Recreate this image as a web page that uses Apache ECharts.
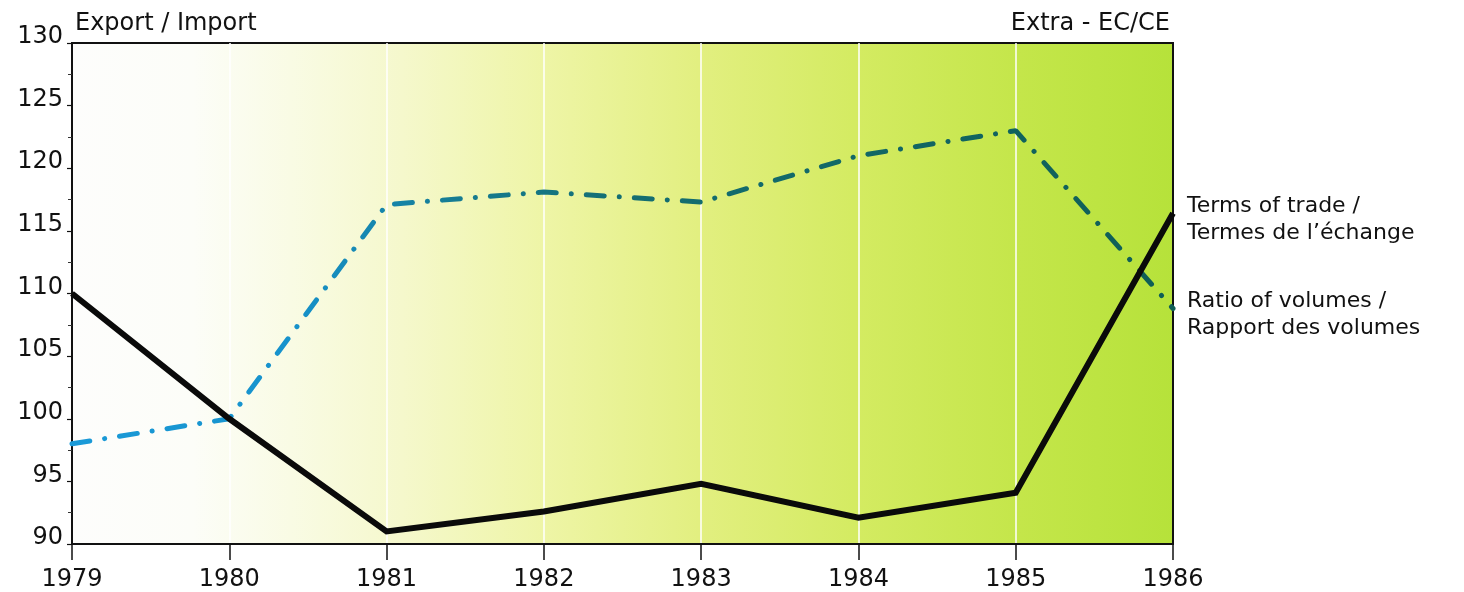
<!DOCTYPE html>
<html>
<head>
<meta charset="utf-8">
<script src="https://cdn.jsdelivr.net/npm/echarts@6/dist/echarts.min.js"></script>
<style>html,body{margin:0;padding:0;background:#fff;}#c{width:1464px;height:592px;}</style>
</head>
<body>
<div id="c"></div>
<script>
const years = ['1979','1980','1981','1982','1983','1984','1985','1986'];
const termsOfTrade = [110, 100, 91.0, 92.6, 94.8, 92.1, 94.1, 116.4];
const ratioOfVolumes = [98, 100, 117.1, 118.1, 117.3, 121.0, 123.0, 108.8];
const yMin = 90, yMax = 130, yStep = 5;
const titleLeft = 'Export / Import';
const titleRight = 'Extra - EC/CE';
const labelTerms = 'Terms of trade /\nTermes de l\u2019\u00e9change';
const labelRatio = 'Ratio of volumes /\nRapport des volumes';

const FONT = 'DejaVu Sans';
const chart = echarts.init(document.getElementById('c'), null, {renderer: 'canvas'});
const bg = new echarts.graphic.LinearGradient(0, 0, 1, 0, [
  {offset: 0, color: '#fdfdfc'},
  {offset: 0.11, color: '#fcfdf8'},
  {offset: 0.2, color: '#f9fbe4'},
  {offset: 0.3, color: '#f5f8cc'},
  {offset: 0.43, color: '#eef5a6'},
  {offset: 0.57, color: '#e2ef80'},
  {offset: 0.71, color: '#d4eb62'},
  {offset: 0.86, color: '#c4e64a'},
  {offset: 1, color: '#b6e23a'}
]);
const dashColor = new echarts.graphic.LinearGradient(0, 0, 1, 0, [
  {offset: 0, color: '#1a9ad8'},
  {offset: 0.2, color: '#1692cc'},
  {offset: 0.35, color: '#167c92'},
  {offset: 0.5, color: '#146e72'},
  {offset: 1, color: '#0f5e55'}
]);
chart.setOption({
  animation: false,
  backgroundColor: '#ffffff',
  textStyle: {fontFamily: FONT},
  title: [
    {text: titleLeft, left: 70, top: 7, textStyle: {fontFamily: FONT, fontSize: 24, fontWeight: 'normal', color: '#111'}},
    {text: titleRight, right: 289, top: 7, textStyle: {fontFamily: FONT, fontSize: 24, fontWeight: 'normal', color: '#111'}}
  ],
  grid: {left: 72, right: 291, top: 43, bottom: 48, show: true, backgroundColor: bg, borderColor: '#111', borderWidth: 2},
  xAxis: {
    type: 'category', data: years, boundaryGap: false,
    axisLine: {lineStyle: {color: '#111', width: 2}},
    axisTick: {length: 16, lineStyle: {color: '#111', width: 1.5}},
    axisLabel: {margin: 24, fontFamily: FONT, fontSize: 24, color: '#111'},
    splitLine: {show: true, interval: function (i) { return i > 0 && i < years.length - 1; }, lineStyle: {color: '#ffffff', width: 1.5}}
  },
  yAxis: {
    type: 'value', min: yMin, max: yMax, interval: yStep,
    axisLine: {show: true, lineStyle: {color: '#111', width: 2}},
    axisTick: {show: true, length: 5, lineStyle: {color: '#111', width: 1.2}},
    minorTick: {show: true, splitNumber: 2, length: 4, lineStyle: {color: '#333', width: 1}},
    axisLabel: {margin: 9, fontFamily: FONT, fontSize: 24, color: '#111', verticalAlign: 'bottom', lineHeight: 12},
    splitLine: {show: false}
  },
  series: [
    {
      name: 'Ratio of volumes', type: 'line', data: ratioOfVolumes, symbol: 'none', z: 2,
      lineStyle: {color: dashColor, width: 5, type: [18, 15, 0.1, 15], cap: 'round'},
      endLabel: {show: true, formatter: labelRatio, offset: [6, 6], fontFamily: FONT, fontSize: 22, lineHeight: 27, color: '#111'}
    },
    {
      name: 'Terms of trade', type: 'line', data: termsOfTrade, symbol: 'none', z: 3,
      lineStyle: {color: '#0a0a0a', width: 6, join: 'miter'},
      endLabel: {show: true, formatter: labelTerms, offset: [6, 6], fontFamily: FONT, fontSize: 22, lineHeight: 27, color: '#111'}
    }
  ]
});
</script>
</body>
</html>
